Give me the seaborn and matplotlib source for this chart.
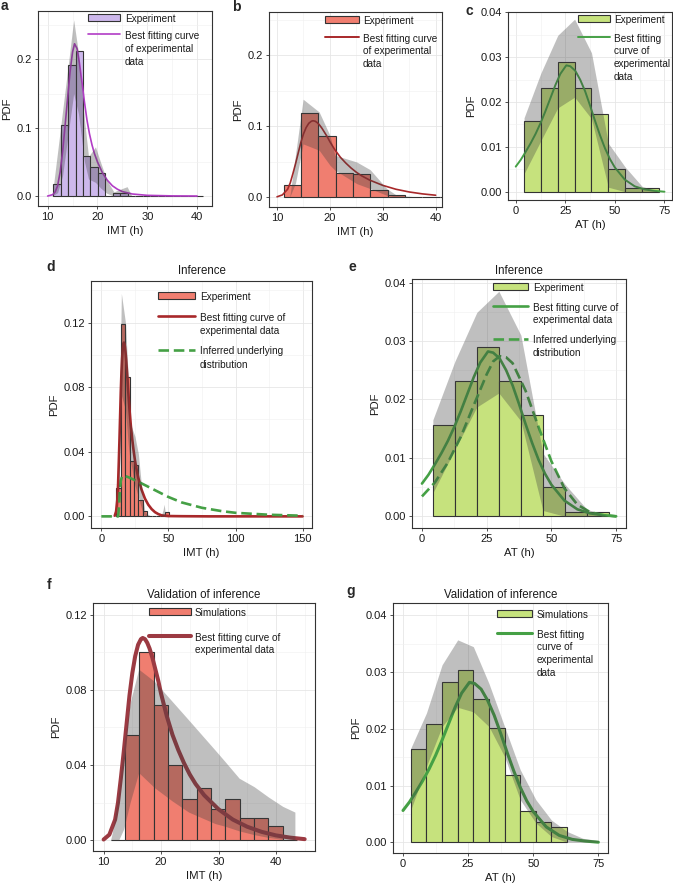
import numpy as np
import pandas as pd
import matplotlib
matplotlib.use("Agg")
import matplotlib.pyplot as plt
import seaborn as sns
from matplotlib.patches import Patch
from matplotlib.lines import Line2D
from matplotlib.ticker import MultipleLocator, FormatStrFormatter

sns.set_theme(style="white")
plt.rcParams['font.family'] = ['Liberation Sans', 'DejaVu Sans']

# ------------------------------------------------------------------ data
# panel a : IMT, first condition
a_edges = [11.1, 12.6, 14.1, 15.6, 17.1, 18.6, 20.1, 21.6, 23.1, 24.6, 26.1,
           27.6, 29.1, 30.6, 32.1, 33.6, 35.1, 36.6, 38.1, 39.6, 41.1]
a_heights = [0.0174, 0.104, 0.192, 0.213, 0.0585, 0.042, 0.0332, 0.0, 0.004, 0.004,
             0, 0, 0, 0, 0, 0, 0, 0, 0, 0]
a_curve_x = [10, 11, 11.5, 12, 12.5, 13, 13.5, 14, 14.5, 15, 15.4, 15.9, 16.4, 16.9,
             17.4, 17.9, 18.4, 18.9, 19.4, 20, 21, 22, 23, 24, 25, 27, 30, 35, 40]
a_curve_y = [0, 0.002, 0.006, 0.015, 0.035, 0.065, 0.103, 0.143, 0.182, 0.211, 0.223,
             0.216, 0.194, 0.166, 0.137, 0.111, 0.091, 0.075, 0.062, 0.05, 0.034, 0.023,
             0.015, 0.01, 0.0065, 0.003, 0.001, 0.0002, 0]
a_band_x = [10.9, 12.0, 13.0, 14.1, 15.22, 16.2, 17.4, 18.2, 19.6, 20.6, 21.9, 23.3, 24.6, 25.95, 26.9]
a_band_up = [0, 0.065, 0.125, 0.19, 0.258, 0.209, 0.111, 0.058, 0.072, 0.05, 0.023, 0.006, 0.01, 0.0137, 0]
a_band_lo = [0, 0.005, 0.03, 0.09, 0.15, 0.12, 0.05, 0.025, 0.02, 0.012, 0.004, 0, 0, 0, 0]

# panels b, d : IMT experiment
imt_edges = [11.3, 14.57, 17.84, 21.11, 24.38, 27.65, 30.92, 34.19, 37.46, 40.73, 44.0, 47.27, 50.54]
imt_heights = [0.0175, 0.119, 0.086, 0.0344, 0.032, 0.0104, 0.0033, 0, 0, 0, 0, 0.0027]
imt_band_x = [12.4, 13.5, 14.93, 17.97, 20.0, 20.95, 25.06, 27.6, 30.77, 32.66, 37.1, 44.5, 46.0, 46.8, 48.0]
imt_band_up = [0, 0.06, 0.138, 0.120, 0.087, 0.059, 0.0495, 0.0387, 0.0118, 0.0024, 0, 0, 0.004, 0.0075, 0]
imt_band_lo = [0, 0.02, 0.075, 0.066, 0.045, 0.038, 0.019, 0.012, 0.0024, 0, 0, 0, 0, 0, 0]
imt_fit_x = [10, 11, 12, 12.5, 13, 13.5, 14, 14.5, 15, 15.5, 16, 16.5, 16.8, 17.2, 17.6, 18,
             18.5, 19, 19.5, 20, 21, 22, 23, 24, 25, 26, 27.5, 30, 32.5, 35, 37.5, 40, 42.5, 45]
imt_fit_y = [0.0004, 0.003, 0.011, 0.02, 0.033, 0.047, 0.062, 0.077, 0.089, 0.098, 0.104,
             0.107, 0.1076, 0.107, 0.105, 0.102, 0.097, 0.091, 0.085, 0.078, 0.066, 0.056,
             0.048, 0.041, 0.035, 0.030, 0.024, 0.0165, 0.011, 0.0072, 0.0045, 0.0026, 0.0014, 0.0006]
imt_fit_tail_x = [50, 60, 80, 150]
imt_fit_tail_y = [0.0002, 0.0001, 0.0, 0.0]
imt_inf_x = [0, 12.5, 13.2, 13.8, 14.5, 15.5, 17, 20, 25, 30, 40, 50, 60, 75, 90, 100, 125, 150]
imt_inf_y = [0, 0, 0.006, 0.016, 0.022, 0.025, 0.0252, 0.0243, 0.0224, 0.0204, 0.0162, 0.012,
             0.0086, 0.0053, 0.0032, 0.0022, 0.001, 0.0004]

# panels c, e : AT experiment
at_edges = [4.2, 12.7, 21.2, 29.7, 38.2, 46.7, 55.2, 63.7, 72.2]
at_heights = [0.0157, 0.0232, 0.029, 0.0232, 0.0174, 0.005, 0.0008, 0.0008]
at_band_x = [4.2, 12.7, 21.2, 29.7, 38.2, 46.7, 55.2, 63.7, 72.2]
at_band_up = [0.0165, 0.0265, 0.0349, 0.0385, 0.031, 0.0108, 0.0055, 0.0012, 0.0]
at_band_lo = [0.004, 0.0114, 0.0187, 0.0211, 0.0163, 0.001, 0, 0, 0]
at_fit_x = [0, 2.5, 5, 7.5, 10, 12.5, 15, 17.5, 20, 22.5, 25.5, 27.5, 30, 32.5, 35, 37.5,
            40, 42.5, 45, 47.5, 50, 55, 60, 65, 70, 75]
at_fit_y = [0.0056, 0.0071, 0.0089, 0.0108, 0.0129, 0.0153, 0.018, 0.0209, 0.0238, 0.0263,
            0.0282, 0.0280, 0.0270, 0.025, 0.0224, 0.0192, 0.0158, 0.0126, 0.0097, 0.0073,
            0.0054, 0.0027, 0.0012, 0.0005, 0.0002, 0.0]
at_inf_x = [0, 5, 10, 15, 20, 25, 27.5, 30, 32.5, 35, 40, 45, 50, 55, 60, 65, 70, 75]
at_inf_y = [0.0034, 0.0058, 0.0092, 0.0136, 0.019, 0.0243, 0.0265, 0.0274, 0.0272, 0.0262,
            0.0215, 0.0153, 0.0094, 0.0048, 0.002, 0.0007, 0.0002, 0.0]

# panel f : IMT simulations
f_edges = [11.2, 13.7, 16.2, 18.7, 21.2, 23.7, 26.2, 28.7, 31.2, 33.7, 36.2, 38.7, 41.2, 43.7]
f_heights = [0, 0.056, 0.100, 0.072, 0.040, 0.0222, 0.0277, 0.0164, 0.0217, 0.0117, 0.0117, 0.0078, 0]
f_band_x = [11.2, 11.5, 12.6, 13.5, 14.6, 16.1, 18.85, 21.9, 24.8, 29.4, 31.1, 33.6, 36.2, 38.7, 41.2, 43.3]
f_band_up = [0, 0.004, 0.025, 0.050, 0.073, 0.091, 0.0845, 0.074, 0.064, 0.048, 0.042, 0.033,
             0.0285, 0.023, 0.018, 0.015]
f_band_lo = [0, 0, 0, 0.006, 0.02, 0.036, 0.028, 0.021, 0.015, 0.0089, 0.0075, 0.005, 0.003,
             0.0015, 0.0005, 0.0]

# panel g : AT simulations
g_edges = [3, 9, 15, 21, 27, 33, 39, 45, 51, 57, 63]
g_heights = [0.0165, 0.0208, 0.0282, 0.0304, 0.0253, 0.0202, 0.0118, 0.0055, 0.0035, 0.00265]
g_band_x = [3, 9, 15, 21, 27, 33, 39, 45, 51, 57, 63, 69, 75]
g_band_up = [0.0166, 0.0228, 0.0313, 0.0357, 0.0345, 0.028, 0.0204, 0.0128, 0.0075, 0.0039,
             0.0019, 0.0007, 0.0003]
g_band_lo = [0.0057, 0.0134, 0.0204, 0.0238, 0.023, 0.0204, 0.0151, 0.0075, 0.0034, 0.001, 0, 0, 0]

# ------------------------------------------------------------------ style
PURPLE_BAR = '#CDB8EC'
PURPLE_LINE = '#B23CC6'
SALMON = '#F07E70'
RED = '#A8282A'
RED_MUTED = '#9C3A42'
GREEN_BAR = '#C6E27D'
GREEN = '#45A045'
BAND = '#3F3F3F'
EDGE = '#333333'

W, H = 673, 888
fig = plt.figure(figsize=(W / 100, H / 100), dpi=100)


def add_ax(x0, y0, x1, y1):
    return fig.add_axes([x0 / W, 1 - y1 / H, (x1 - x0) / W, (y1 - y0) / H])


def hist(ax, edges, heights, color):
    e = [float(v) for v in edges]
    centers = [(e[i] + e[i + 1]) / 2 for i in range(len(e) - 1)]
    df = pd.DataFrame({'x': centers, 'w': [float(h) for h in heights]})
    sns.histplot(data=df, x='x', weights='w', bins=e, ax=ax, color=color, alpha=1.0,
                 edgecolor=EDGE, linewidth=0.8, zorder=2)


def curve(ax, x, y, color, lw, ls='-'):
    sns.lineplot(x=np.asarray(x, float), y=np.asarray(y, float), ax=ax, color=color,
                 linewidth=lw, linestyle=ls, estimator=None, sort=False, zorder=3)


def band(ax, x, lo, up):
    ax.fill_between(x, lo, up, color=BAND, alpha=0.33, linewidth=0, zorder=4)


def style(ax, xlim, ylim, xstep, ystep, yfmt, xlabel):
    ax.set_xlim(xlim)
    ax.set_ylim(ylim)
    ax.xaxis.set_major_locator(MultipleLocator(xstep))
    ax.xaxis.set_minor_locator(MultipleLocator(xstep / 2))
    ax.yaxis.set_major_locator(MultipleLocator(ystep))
    ax.yaxis.set_minor_locator(MultipleLocator(ystep / 2))
    ax.yaxis.set_major_formatter(FormatStrFormatter(yfmt))
    ax.xaxis.set_major_formatter(FormatStrFormatter('%d'))
    ax.set_axisbelow(True)
    ax.grid(which='major', color='#E6E6E6', linewidth=0.6)
    ax.grid(which='minor', color='#F0F0F0', linewidth=0.4)
    ax.tick_params(which='minor', length=0)
    ax.tick_params(which='major', length=2.5, width=0.6, color=EDGE, pad=2,
                   labelsize=8, labelcolor='#1a1a1a', bottom=True, left=True)
    for s in ax.spines.values():
        s.set_color(EDGE)
        s.set_linewidth(0.8)
    ax.set_xlabel(xlabel, fontsize=8.2, labelpad=3, color='#1a1a1a')
    ax.set_ylabel('PDF', fontsize=8.2, labelpad=3, color='#1a1a1a')


def legend(ax, handles, labels, x_px, y_px, hl, htp, lsp, linesp):
    leg = ax.legend(handles, labels, loc='upper left', bbox_to_anchor=(x_px / W, 1 - y_px / H),
                    bbox_transform=fig.transFigure, frameon=False, fontsize=7.2,
                    handlelength=hl, handletextpad=htp, labelspacing=lsp,
                    borderpad=0, borderaxespad=0)
    for t in leg.get_texts():
        t.set_linespacing(linesp)
        t.set_color('#1a1a1a')
    try:
        for col in leg._legend_handle_box.get_children():
            for item in col.get_children():
                item.align = 'top'
    except Exception:
        pass
    leg.set_zorder(10)
    return leg


def letter(x_px, y_px, s):
    fig.text(x_px / W, 1 - y_px / H, s, fontsize=10, fontweight='bold', va='baseline', ha='left')


def patch(c):
    return Patch(facecolor=c, edgecolor=EDGE, linewidth=0.8)


# ------------------------------------------------------------------ panel a
ax = add_ax(38, 11, 212, 206)
hist(ax, a_edges, a_heights, PURPLE_BAR)
curve(ax, a_curve_x, a_curve_y, PURPLE_LINE, 1.2)
band(ax, a_band_x, a_band_lo, a_band_up)
style(ax, (8.06, 43.0), (-0.0146, 0.271), 10, 0.1, '%.1f', 'IMT (h)')
legend(ax, [patch(PURPLE_BAR), Line2D([], [], color=PURPLE_LINE, lw=1.2)],
       ['Experiment', 'Best fitting curve\nof experimental\ndata'], 88, 14, 3.2, 0.5, 0.66, 1.42)
letter(1, 10, 'a')

# ------------------------------------------------------------------ panel b
ax = add_ax(269, 12, 442, 207)
hist(ax, imt_edges, imt_heights, SALMON)
fx = np.asarray(imt_fit_x)
curve(ax, fx[fx <= 40], np.asarray(imt_fit_y)[fx <= 40], RED, 1.2)
band(ax, imt_band_x, imt_band_lo, imt_band_up)
style(ax, (8.48, 41.2), (-0.014, 0.261), 10, 0.1, '%.1f', 'IMT (h)')
legend(ax, [patch(SALMON), Line2D([], [], color=RED, lw=1.4)],
       ['Experiment', 'Best fitting curve\nof experimental\ndata'], 325, 16, 3.4, 0.4, 0.76, 1.32)
letter(232, 11, 'b')

# ------------------------------------------------------------------ panel c
ax = add_ax(508, 12, 672, 200)
hist(ax, at_edges, at_heights, GREEN_BAR)
curve(ax, at_fit_x, at_fit_y, GREEN, 1.4)
band(ax, at_band_x, at_band_lo, at_band_up)
style(ax, (-3.9, 78.8), (-0.00185, 0.0401), 25, 0.01, '%.2f', 'AT (h)')
legend(ax, [patch(GREEN_BAR), Line2D([], [], color=GREEN, lw=1.4)],
       ['Experiment', 'Best fitting\ncurve of\nexperimental\ndata'], 578, 15, 3.2, 0.4, 0.86, 1.36)
letter(465, 15, 'c')

# ------------------------------------------------------------------ panel d
ax = add_ax(91, 281, 312, 528)
hist(ax, imt_edges, imt_heights, SALMON)
curve(ax, list(imt_fit_x) + imt_fit_tail_x, list(imt_fit_y) + imt_fit_tail_y, RED, 1.9)
curve(ax, imt_inf_x, imt_inf_y, GREEN, 1.9, (0, (4, 1.8)))
band(ax, imt_band_x, imt_band_lo, imt_band_up)
style(ax, (-7.7, 157), (-0.0072, 0.1457), 50, 0.04, '%.2f', 'IMT (h)')
ax.set_title('Inference', fontsize=8.3, pad=5, color='#1a1a1a')
legend(ax, [patch(SALMON), Line2D([], [], color=RED, lw=1.9),
            Line2D([], [], color=GREEN, lw=1.9, ls=(0, (4, 1.8)))],
       ['Experiment', 'Best fitting curve of\nexperimental data', 'Inferred underlying\ndistribution'],
       158, 292, 3.7, 0.5, 1.06, 1.4)
letter(46, 271, 'd')

# ------------------------------------------------------------------ panel e
ax = add_ax(412, 279, 626, 528)
hist(ax, at_edges, at_heights, GREEN_BAR)
curve(ax, at_fit_x, at_fit_y, GREEN, 1.9)
curve(ax, at_inf_x, at_inf_y, GREEN, 1.9, (0, (4, 1.8)))
band(ax, at_band_x, at_band_lo, at_band_up)
style(ax, (-3.85, 78.8), (-0.002, 0.0406), 25, 0.01, '%.2f', 'AT (h)')
ax.set_title('Inference', fontsize=8.3, pad=3.6, color='#1a1a1a')
legend(ax, [patch(GREEN_BAR), Line2D([], [], color=GREEN, lw=1.9),
            Line2D([], [], color=GREEN, lw=1.9, ls=(0, (4, 1.8)))],
       ['Experiment', 'Best fitting curve of\nexperimental data', 'Inferred underlying\ndistribution'],
       493, 283, 3.5, 0.5, 0.96, 1.36)
letter(348, 271, 'e')

# ------------------------------------------------------------------ panel f
ax = add_ax(93, 603, 315, 851)
hist(ax, f_edges, f_heights, SALMON)
curve(ax, imt_fit_x, imt_fit_y, RED_MUTED, 2.9)
band(ax, f_band_x, f_band_lo, f_band_up)
style(ax, (8.15, 46.8), (-0.0057, 0.1262), 10, 0.04, '%.2f', 'IMT (h)')
ax.set_title('Validation of inference', fontsize=8.3, pad=3.6, color='#1a1a1a')
legend(ax, [patch(SALMON), Line2D([], [], color=RED_MUTED, lw=2.9)],
       ['Simulations', 'Best fitting curve of\nexperimental data'], 149, 608, 4.2, 0.4, 1.46, 1.36)
letter(47, 589, 'f')

# ------------------------------------------------------------------ panel g
ax = add_ax(393, 603, 608, 853)
hist(ax, g_edges, g_heights, GREEN_BAR)
curve(ax, at_fit_x, at_fit_y, GREEN, 2.2)
band(ax, g_band_x, g_band_lo, g_band_up)
style(ax, (-3.84, 78.7), (-0.0019, 0.0422), 25, 0.01, '%.2f', 'AT (h)')
ax.set_title('Validation of inference', fontsize=8.3, pad=3.6, color='#1a1a1a')
legend(ax, [patch(GREEN_BAR), Line2D([], [], color=GREEN, lw=2.2)],
       ['Simulations', 'Best fitting\ncurve of\nexperimental\ndata'], 497, 610, 3.5, 0.5, 0.96, 1.36)
letter(346, 595, 'g')

fig.savefig('out.png', dpi=100)
